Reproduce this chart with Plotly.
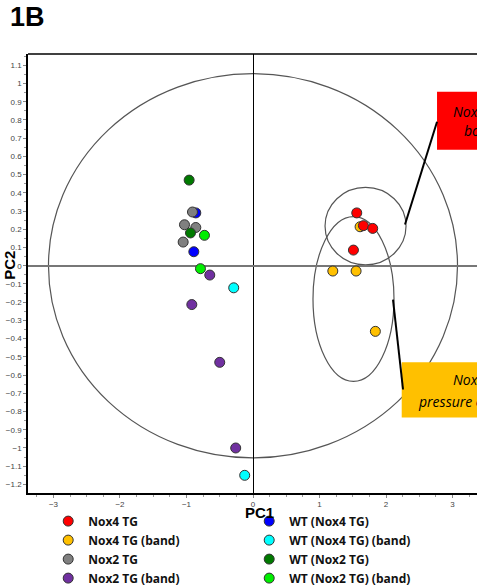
import plotly.graph_objects as go

# ---- data ----
groups = ["Nox4 TG", "WT (Nox4 TG)", "Nox4 TG (band)", "WT (Nox4 TG) (band)",
          "Nox2 TG", "WT (Nox2 TG)", "Nox2 TG (band)", "WT (Nox2 TG) (band)"]
colors = ["#FF0000", "#0000FF", "#FFC000", "#00FFFF",
          "#808080", "#007A00", "#7030A0", "#00EE00"]

pc1 = {
    "Nox4 TG": [1.56, 1.66, 1.80, 1.51],
    "WT (Nox4 TG)": [-0.86, -0.89],
    "Nox4 TG (band)": [1.61, 1.20, 1.55, 1.84],
    "WT (Nox4 TG) (band)": [-0.29, -0.125],
    "Nox2 TG": [-0.91, -1.03, -0.86, -1.05],
    "WT (Nox2 TG)": [-0.96, -0.94],
    "Nox2 TG (band)": [-0.65, -0.92, -0.50, -0.26],
    "WT (Nox2 TG) (band)": [-0.73, -0.79],
}
pc2 = {
    "Nox4 TG": [0.29, 0.22, 0.205, 0.086],
    "WT (Nox4 TG)": [0.29, 0.077],
    "Nox4 TG (band)": [0.214, -0.029, -0.029, -0.36],
    "WT (Nox4 TG) (band)": [-0.121, -1.15],
    "Nox2 TG": [0.295, 0.225, 0.21, 0.13],
    "WT (Nox2 TG)": [0.47, 0.18],
    "Nox2 TG (band)": [-0.051, -0.213, -0.53, -1.0],
    "WT (Nox2 TG) (band)": [0.167, -0.016],
}
# drawing order (back to front)
draw_order = ["Nox2 TG (band)", "WT (Nox4 TG)", "Nox2 TG", "WT (Nox2 TG)",
              "WT (Nox2 TG) (band)", "WT (Nox4 TG) (band)",
              "Nox4 TG (band)", "Nox4 TG"]

# confidence ellipses: (x0, x1, y0, y1)
ellipse_x0 = [-3.075, 1.083, 0.902]
ellipse_x1 = [3.075, 2.301, 2.120]
ellipse_y0 = [-1.054, 0.005, -0.635]
ellipse_y1 = [1.054, 0.430, 0.270]

box_labels = [["Nox4 TG", "body weight"], ["Nox4 TG (band)", "pressure overload"]]

fig = go.Figure()

for g in draw_order:
    i = groups.index(g)
    fig.add_trace(go.Scatter(
        x=pc1[g], y=pc2[g], mode="markers", name=g,
        marker=dict(size=10, color=colors[i], line=dict(color="#333333", width=1)),
        legendrank=i + 1, showlegend=True))

shapes = []
for x0, x1, y0, y1 in zip(ellipse_x0, ellipse_x1, ellipse_y0, ellipse_y1):
    shapes.append(dict(type="circle", xref="x", yref="y", x0=x0, x1=x1, y0=y0, y1=y1,
                       line=dict(color="#555555", width=1.2), layer="below"))

# frame top line
shapes.append(dict(type="line", xref="paper", yref="paper", x0=0, x1=1.2, y0=1, y1=1,
                   line=dict(color="black", width=1.5)))
# callout boxes
shapes.append(dict(type="rect", xref="x", yref="y", x0=2.767, x1=4.0, y0=0.637, y1=0.955,
                   fillcolor="#FF0000", line=dict(width=0), layer="above"))
shapes.append(dict(type="rect", xref="x", yref="y", x0=2.236, x1=4.0, y0=-0.833, y1=-0.529,
                   fillcolor="#FFC000", line=dict(width=0), layer="above"))
# leader lines
shapes.append(dict(type="line", xref="x", yref="y", x0=2.767, y0=0.790, x1=2.286, y1=0.226,
                   line=dict(color="black", width=2)))
shapes.append(dict(type="line", xref="x", yref="y", x0=2.105, y0=-0.186, x1=2.256, y1=-0.679,
                   line=dict(color="black", width=2)))

boxfont = dict(family="Open Sans", size=14, color="black")
ann = [
    dict(x=2.975, y=0.846, xref="x", yref="y", text="<i>" + box_labels[0][0] + "</i>",
         showarrow=False, xanchor="left", yanchor="middle", font=boxfont),
    dict(x=3.14, y=0.742, xref="x", yref="y", text="<i>" + box_labels[0][1] + "</i>",
         showarrow=False, xanchor="left", yanchor="middle", font=boxfont),
    dict(x=2.98, y=-0.626, xref="x", yref="y", text="<i>" + box_labels[1][0] + "</i>",
         showarrow=False, xanchor="left", yanchor="middle", font=boxfont),
    dict(x=2.45, y=-0.743, xref="x", yref="y", text="<i>" + box_labels[1][1] + "</i>",
         showarrow=False, xanchor="left", yanchor="middle", font=boxfont),
    dict(x=0, y=1, xref="paper", yref="paper", xshift=-20, yshift=20,
         text="<b>1B</b>", showarrow=False, xanchor="left", yanchor="bottom",
         font=dict(family="Liberation Sans", size=27, color="black")),
    dict(x=-0.04, y=0.0, xref="paper", yref="y", text="<b>PC2</b>", textangle=-90,
         showarrow=False, xanchor="center", yanchor="middle",
         font=dict(family="Liberation Sans", size=15, color="black")),
    dict(x=0.105, y=0, xref="x", yref="paper", yshift=-9, text="<b>PC1</b>",
         showarrow=False, xanchor="center", yanchor="top",
         font=dict(family="Liberation Sans", size=15, color="black")),
]

fig.update_layout(
    width=477, height=586,
    margin=dict(l=28, r=0, t=54, b=93, autoexpand=False),
    paper_bgcolor="white", plot_bgcolor="white",
    shapes=shapes,
    annotations=ann,
    showlegend=True,
    legend=dict(orientation="h", x=0.045, y=-0.031, xanchor="left", yanchor="top",
                entrywidth=156, entrywidthmode="pixels",
                font=dict(family="Open Sans", size=12, color="#111111", weight="bold"),
                traceorder="normal", itemclick=False, bgcolor="rgba(0,0,0,0)"),
    xaxis=dict(range=[-3.383, 3.368], showgrid=False, zeroline=True, zerolinecolor="black",
               zerolinewidth=1.2, showline=True, linecolor="black", linewidth=1.5,
               ticks="outside", ticklen=3, tickcolor="#888888", dtick=1, tick0=0,
               tickfont=dict(family="Liberation Sans", size=8, color="#444444"),
               minor=dict(ticks="outside", ticklen=2, dtick=0.25, tickcolor="#999999"),
               fixedrange=True),
    yaxis=dict(range=[-1.247, 1.162], showgrid=False, zeroline=True, zerolinecolor="#777777",
               zerolinewidth=1.8, showline=True, linecolor="black", linewidth=1.5,
               ticks="outside", ticklen=3, tickcolor="#888888", dtick=0.1, tick0=0,
               tickfont=dict(family="Liberation Sans", size=8, color="#444444"),
               minor=dict(ticks="outside", ticklen=2, dtick=0.05, tickcolor="#999999"),
               fixedrange=True),
)

fig.write_html("out.html")
